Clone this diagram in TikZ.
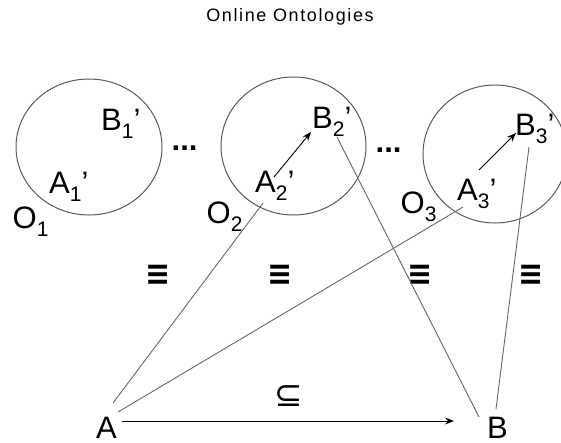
\documentclass[tikz,border=0pt]{standalone}
\usepackage{fontspec}
\setmainfont{Liberation Sans}
\newfontfamily\symfont{DejaVu Sans}
\usetikzlibrary{arrows.meta}
\newcommand{\onto}[2]{#1\raisebox{-8pt}{\fontsize{21}{21}\selectfont #2}’}
\newcommand{\ontoname}[2]{#1\raisebox{-8pt}{\fontsize{21}{21}\selectfont #2}}

\begin{document}
\begin{tikzpicture}[x=1pt,y=-1pt,>={Stealth[length=9pt,width=7pt]},
  lbl/.style={anchor=base west,inner sep=0pt,font=\fontsize{31}{31}\selectfont},
  eqv/.style={inner sep=0pt,font=\symfont\bfseries\fontsize{30}{30}\selectfont},
  onto/.style={draw=black!65,line width=1pt},
  link/.style={draw=black!60,line width=0.9pt}]
\clip (0,0) rectangle (561,442);
\node[font=\fontsize{18}{18}\selectfont\addfontfeature{LetterSpace=9}] (title) at (290,17) {Online Ontologies};
% the three ontologies
\draw[onto] (89,147) ellipse (73 and 68);
\draw[onto] (293.5,146) ellipse (72.5 and 69);
\draw[onto] (495,154) ellipse (72 and 69);
\node[lbl] (O1) at (12.5,228) {\ontoname{O}{1}};
\node[lbl] (A1) at (49,193) {\onto{A}{1}};
\node[lbl] (B1) at (101,130) {\onto{B}{1}};
\node[lbl] (O2) at (206.5,223) {\ontoname{O}{2}};
\node[lbl] (A2) at (255,192) {\onto{A}{2}};
\node[lbl] (B2) at (312,128) {\onto{B}{2}};
\node[lbl] (O3) at (400.5,213) {\ontoname{O}{3}};
\node[lbl] (A3) at (457,200) {\onto{A}{3}};
\node[lbl] (B3) at (515,135) {\onto{B}{3}};
\node[lbl,font=\fontsize{31}{31}\selectfont\bfseries] (dots1) at (171.5,150.5) {...};
\node[lbl,font=\fontsize{31}{31}\selectfont\bfseries] (dots2) at (375.5,152.5) {...};
% local concepts
\node[lbl] (A) at (96,438) {A};
\node[lbl] (B) at (487,438) {B};
\foreach \x [count=\i] in {158,280,420,531}
  \node[eqv] (eq\i) at (\x,275) {\scalebox{1}[1.15]{≡}};
\node[inner sep=0pt,font=\symfont\fontsize{34}{34}\selectfont] (sub) at (289,396) {⊆};
% mappings
\draw[link] ([shift={(17,-35)}]A.base west) -- ([shift={(8,11)}]A2.base west);
\draw[link] ([shift={(22,-26)}]A.base west) -- ([shift={(6,7)}]A3.base west);
\draw[link] ([shift={(25,9)}]B2.base west) -- ([shift={(-8,-21)}]B.base west);
\draw[link] ([shift={(14,12)}]B3.base west) -- ([shift={(9,-29)}]B.base west);
\draw[->,line width=0.9pt] ([shift={(26,-17)}]A.base west) -- ([shift={(-33,-17)}]B.base west);
\draw[->,line width=0.9pt] ([shift={(19,-15)}]A2.base west) -- ([shift={(-1,4)}]B2.base west);
\draw[->,line width=0.9pt] ([shift={(22,-30)}]A3.base west) -- ([shift={(1,-2)}]B3.base west);
\end{tikzpicture}
\end{document}
